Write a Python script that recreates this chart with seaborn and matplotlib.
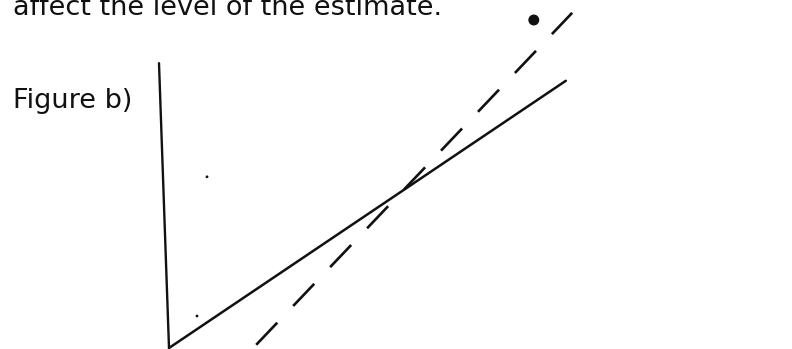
import matplotlib
matplotlib.use("Agg")

import matplotlib.pyplot as plt
import pandas as pd
import seaborn as sns

# sketch coordinates, origin at the foot of the vertical axis
axis_x = [-0.25, 0.0]
axis_y = [7.12, 0.0]

fit_x = [0.0, 9.92]
fit_y = [0.0, 6.68]

alt_fit_x = [2.18, 10.08]
alt_fit_y = [0.08, 8.38]

outlier_x = [9.12]
outlier_y = [8.2]

speck_x = [0.95, 0.7]
speck_y = [4.28, 0.8]

caption = "affect the level of the estimate."
panel_label = "Figure b)"

sns.set_style("white")
plt.rcParams["font.family"] = ["DejaVu Sans"]
plt.rcParams["lines.scale_dashes"] = False

ink = "#111111"

fig = plt.figure(figsize=(7.92, 3.49), dpi=100)
ax = fig.add_axes([0, 0, 1, 1])

sns.lineplot(x=axis_x, y=axis_y, ax=ax, color=ink, linewidth=1.7,
             sort=False, errorbar=None)
sns.lineplot(x=fit_x, y=fit_y, ax=ax, color=ink, linewidth=1.8,
             errorbar=None)
sns.lineplot(x=alt_fit_x, y=alt_fit_y, ax=ax, color=ink, linewidth=1.9,
             errorbar=None, linestyle=(0, (22.0, 16.6)))
sns.scatterplot(x=outlier_x, y=outlier_y, ax=ax, color=ink, s=62,
                marker="o", edgecolor="none")
sns.scatterplot(x=speck_x, y=speck_y, ax=ax, color=ink, s=4,
                edgecolor="none")

ax.set_xlim(-4.225, 15.575)
ax.set_ylim(-0.025, 8.7)
ax.axis("off")

fig.text(13 / 792, 1 - 15 / 349, caption, fontsize=19.5, color=ink,
         va="baseline")
fig.text(13 / 792, 1 - 108 / 349, panel_label, fontsize=19.5, color=ink,
         va="baseline")

fig.savefig("out.png", dpi=100, facecolor="white")
plt.close(fig)
